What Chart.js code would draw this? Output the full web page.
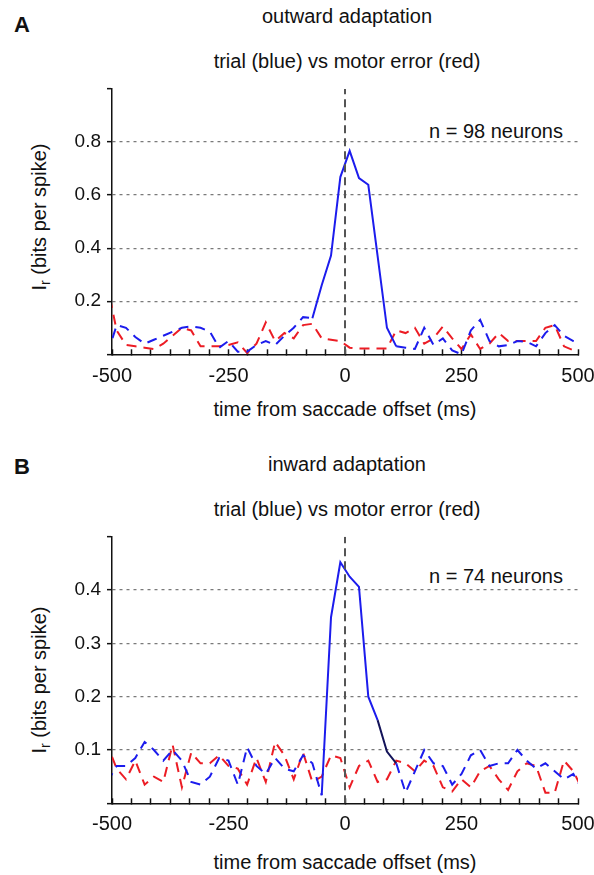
<!DOCTYPE html>
<html>
<head>
<meta charset="utf-8">
<script src="https://cdn.jsdelivr.net/npm/chart.js@4.4.0/dist/chart.umd.min.js"></script>
<style>
  body { margin: 0; background: #fff; width: 594px; height: 875px; position: relative; overflow: hidden;
         font-family: "Liberation Sans", Arial, sans-serif; color: #111; }
  canvas { position: absolute; left: 0; }
  .t { position: absolute; white-space: nowrap; line-height: 1; font-size: 20px; transform: translate(-50%, -50%); }
  .letter { font-weight: bold; font-size: 22px; }
  .n { position: absolute; white-space: nowrap; line-height: 1; font-size: 20px; transform: translateY(-50%); right: 31px; }
  .yt { position: absolute; white-space: nowrap; line-height: 1; font-size: 20px; transform: translate(-50%, -50%) rotate(-90deg); }
  .yt sub { font-size: 14px; vertical-align: -4px; }
</style>
</head>
<body>
<div class="t letter" style="left:22px; top:25px;">A</div>
<div class="t" style="left:347px; top:16px;">outward adaptation</div>
<div class="t" style="left:347px; top:61px;">trial (blue) vs motor error (red)</div>
<div class="n" style="top:131px;">n = 98 neurons</div>
<div class="yt" style="left:40px; top:217px;">I<sub>r</sub> (bits per spike)</div>
<div class="t" style="left:345px; top:409px;">time from saccade offset (ms)</div>

<div class="t letter" style="left:22px; top:467px;">B</div>
<div class="t" style="left:347px; top:464px;">inward adaptation</div>
<div class="t" style="left:347px; top:509px;">trial (blue) vs motor error (red)</div>
<div class="n" style="top:576px;">n = 74 neurons</div>
<div class="yt" style="left:40px; top:680px;">I<sub>r</sub> (bits per spike)</div>
<div class="t" style="left:345px; top:862px;">time from saccade offset (ms)</div>

<canvas id="chartA" width="640" height="440" style="top:0px"></canvas>
<canvas id="chartB" width="640" height="435" style="top:440px"></canvas>

<script>
// bin centres (ms from saccade offset)
const timeMs = [-510, -490, -470, -450, -430, -410, -390, -370, -350, -330, -310, -290, -270,
                -250, -230, -210, -190, -170, -150, -130, -110, -90, -70, -50, -30, -10,
                10, 30, 50, 70, 90, 110, 130, 150, 170, 190, 210, 230, 250,
                270, 290, 310, 330, 350, 370, 390, 410, 430, 450, 470, 490, 510];

// panel A - outward adaptation
const trialA = [0.0, 0.11, 0.10, 0.065, 0.04, 0.055, 0.07, 0.085, 0.10, 0.105, 0.10, 0.085, 0.025,
                0.05, 0.01, 0.01, 0.035, 0.05, 0.035, 0.07, 0.10, 0.14, 0.136, 0.26, 0.372, 0.668,
                0.767, 0.664, 0.639, 0.37, 0.10, 0.03, 0.025, 0.02, 0.10, 0.035, 0.06, 0.015, 0.0,
                0.09, 0.13, 0.05, 0.03, 0.035, 0.05, 0.047, 0.03, 0.08, 0.11, 0.07, 0.05, 0.04];
const motorErrA = [0.26, 0.09, 0.035, 0.03, 0.025, 0.02, 0.04, 0.07, 0.10, 0.09, 0.03, 0.03, 0.03,
                   0.035, 0.045, 0.005, 0.04, 0.12, 0.05, 0.08, 0.06, 0.11, 0.115, 0.06, 0.055, 0.05,
                   0.025, 0.022, 0.022, 0.022, 0.022, 0.09, 0.08, 0.10, 0.04, 0.06, 0.105, 0.06, 0.02,
                   0.075, 0.02, 0.04, 0.08, 0.05, 0.05, 0.05, 0.05, 0.10, 0.11, 0.03, 0.015, 0.0];

// panel B - inward adaptation
const trialB = [0.04, 0.07, 0.07, 0.085, 0.115, 0.10, 0.08, 0.10, 0.08, 0.04, 0.035, 0.05, 0.085,
                0.08, 0.035, 0.105, 0.07, 0.055, 0.085, 0.065, 0.06, 0.09, 0.075, 0.015, 0.349, 0.452,
                0.425, 0.406, 0.20, 0.156, 0.097, 0.075, 0.02, 0.06, 0.10, 0.075, 0.07, 0.035, 0.055,
                0.09, 0.10, 0.07, 0.075, 0.075, 0.10, 0.08, 0.065, 0.075, 0.06, 0.045, 0.055, 0.025];
const motorErrB = [0.11, 0.065, 0.045, 0.08, 0.035, 0.05, 0.04, 0.11, 0.03, 0.095, 0.075, 0.075, 0.09,
                   0.07, 0.065, 0.035, 0.085, 0.04, 0.115, 0.09, 0.045, 0.095, 0.04, 0.05, 0.09, 0.085,
                   0.03, 0.07, 0.08, 0.04, 0.045, 0.08, 0.075, 0.06, 0.08, 0.07, 0.03, 0.022, 0.045,
                   0.03, 0.06, 0.07, 0.045, 0.025, 0.06, 0.075, 0.07, 0.02, 0.02, 0.08, 0.06, 0.025];

const xTickLabels = ['-500', '-250', '0', '250', '500'];
const yTicksA = [0, 0.2, 0.4, 0.6, 0.8, 1.0];
const yTickLabelsA = ['', '0.2', '0.4', '0.6', '0.8', ''];
const yTicksB = [0, 0.1, 0.2, 0.3, 0.4, 0.5];
const yTickLabelsB = ['', '0.1', '0.2', '0.3', '0.4', ''];

Chart.defaults.font.family = '"Liberation Sans", Arial, sans-serif';
Chart.defaults.font.size = 20;
Chart.defaults.color = '#111';

const BLUE = '#1c1ced';
const RED = '#ec1c24';
const DASH = [10, 7];

function pts(vals) {
    return timeMs.map((t, i) => ({ x: t, y: vals[i] }));
}

// minor x ticks every 1000/24 ms, labels on every 6th one
const xTickValues = [];
for (let k = 0; k <= 24; k++) xTickValues.push(-500 + k * 125 / 3);

function buildPanel(id, cfg) {
    const ctx = document.getElementById(id).getContext('2d');
    const yMax = cfg.yTicks[cfg.yTicks.length - 1];
    const inSolid = c => c.p0.parsed.x >= cfg.solid[0] && c.p1.parsed.x <= cfg.solid[1];
    const inDark = c => cfg.dark && c.p0.parsed.x >= cfg.dark[0] && c.p1.parsed.x <= cfg.dark[1];

    return new Chart(ctx, {
        type: 'line',
        data: {
            datasets: [
                {
                    data: [{ x: 0, y: 0 }, { x: 0, y: yMax }],
                    borderColor: '#555', borderWidth: 2, borderDash: [8, 5],
                    pointRadius: 0, order: 0
                },
                {
                    data: pts(cfg.trial),
                    borderColor: BLUE, borderWidth: 2, pointRadius: 0, tension: 0, order: 1,
                    segment: {
                        borderDash: c => inSolid(c) ? [] : DASH,
                        borderColor: c => inDark(c) ? '#14145a' : BLUE
                    }
                },
                {
                    data: pts(cfg.motor),
                    borderColor: RED, borderWidth: 2, borderDash: DASH, borderDashOffset: 4,
                    pointRadius: 0, tension: 0, order: 2
                }
            ]
        },
        options: {
            responsive: false,
            animation: false,
            layout: { padding: { left: 0, top: cfg.top, right: 640 - 578, bottom: 0 } },
            plugins: { legend: { display: false }, tooltip: { enabled: false } },
            scales: {
                x: {
                    type: 'linear', min: -500, max: 500,
                    afterBuildTicks: s => { s.ticks = xTickValues.map(v => ({ value: v })); },
                    afterFit: s => { s.height = cfg.xAxisH; },
                    ticks: {
                        autoSkip: false, maxRotation: 0, padding: cfg.xPad,
                        callback: (v, i) => (i % 6 === 0 ? xTickLabels[i / 6] : '')
                    },
                    // tick marks point up into the plot, as in the figure
                    grid: { drawOnChartArea: false, tickLength: -5, tickColor: '#111', tickWidth: 1.5 },
                    border: { color: '#111', width: 1.5 }
                },
                y: {
                    min: 0, max: yMax,
                    afterBuildTicks: s => { s.ticks = cfg.yTicks.map(v => ({ value: v })); },
                    afterFit: s => { s.width = 112; },
                    ticks: { padding: 6, font: { size: 19 }, callback: (v, i) => cfg.yLabels[i] },
                    grid: {
                        color: c => (c.index === 0 || c.index === cfg.yTicks.length - 1) ? 'rgba(0,0,0,0)' : '#7a7a7a',
                        lineWidth: 1.3, tickLength: 5, tickColor: '#111', tickWidth: 1.5
                    },
                    border: { color: '#111', width: 1.5, dash: [3, 4] }
                }
            }
        }
    });
}

buildPanel('chartA', {
    trial: trialA, motor: motorErrA, yTicks: yTicksA, yLabels: yTickLabelsA,
    solid: [-70, 110], dark: null, top: 89, xAxisH: 440 - 354.3, xPad: 15
});
buildPanel('chartB', {
    trial: trialB, motor: motorErrB, yTicks: yTicksB, yLabels: yTickLabelsB,
    solid: [-50, 110], dark: [70, 110], top: 96.7, xAxisH: 435 - 363.3, xPad: 14
});
</script>
</body>
</html>
